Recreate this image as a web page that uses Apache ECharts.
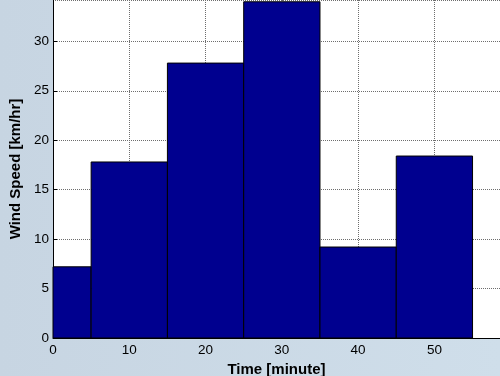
<!DOCTYPE html>
<html>
<head>
<meta charset="utf-8">
<script src="https://cdn.jsdelivr.net/npm/echarts@6/dist/echarts.min.js"></script>
<style>
  html, body { margin: 0; padding: 0; background: #cbd9e6; }
  #chart { width: 500px; height: 376px; }
</style>
</head>
<body>
<div id="chart"></div>
<script>
// Histogram of wind speed per time bin
const binStarts = [0, 5, 15, 25, 35, 45];
const binEnds   = [5, 15, 25, 35, 45, 55];
const windSpeed = [7.2, 17.8, 27.8, 34.0, 9.2, 18.4];
const xTicks = [0, 10, 20, 30, 40, 50];
const yTicks = [0, 5, 10, 15, 20, 25, 30];

const bars = binStarts.map((s, i) => [s, binEnds[i], windSpeed[i]]);
const font = 'Liberation Sans, Arial, Helvetica, sans-serif';

const chart = echarts.init(document.getElementById('chart'), null, { renderer: 'canvas' });

chart.setOption({
  backgroundColor: {
    type: 'linear', x: 0, y: 0, x2: 1, y2: 0,
    colorStops: [
      { offset: 0, color: '#c7d5e2' },
      { offset: 1, color: '#cfdeea' }
    ]
  },
  animation: false,
  grid: {
    left: 53, right: 0, top: 0, bottom: 38,
    outerBoundsMode: 'none',
    containLabel: false,
    show: true, backgroundColor: '#ffffff', borderWidth: 0
  },
  xAxis: {
    type: 'value',
    min: 0,
    max: 58.6,
    interval: 10,
    name: 'Time [minute]',
    nameLocation: 'middle',
    nameGap: 22,
    nameTextStyle: { fontFamily: font, fontSize: 15, fontWeight: 'bold', color: '#000' },
    axisLine: { show: true, lineStyle: { color: '#000', width: 1 } },
    axisTick: { show: true, inside: true, length: 4, lineStyle: { color: '#000' } },
    axisLabel: {
      fontFamily: font, fontSize: 13.5, color: '#000', margin: 5,
      showMaxLabel: false,
      formatter: v => (xTicks.includes(v) ? String(v) : '')
    },
    splitLine: { show: true, lineStyle: { color: '#6e6e6e', type: [1, 1], width: 1 } }
  },
  yAxis: {
    type: 'value',
    min: 0,
    max: 34.18,
    interval: 5,
    name: 'Wind Speed [km/hr]',
    nameLocation: 'middle',
    nameGap: 28,
    nameTextStyle: { fontFamily: font, fontSize: 15, fontWeight: 'bold', color: '#000' },
    axisLine: { show: true, lineStyle: { color: '#000', width: 1 } },
    axisTick: { show: true, inside: true, length: 4, lineStyle: { color: '#000' } },
    axisLabel: {
      fontFamily: font, fontSize: 13.5, color: '#000', margin: 4,
      padding: [4, 0, 0, 0],
      showMaxLabel: false,
      formatter: v => (yTicks.includes(v) ? String(v) : '')
    },
    splitLine: { show: true, lineStyle: { color: '#6e6e6e', type: [1, 1], width: 1 } }
  },
  series: [{
    type: 'custom',
    data: bars,
    encode: { x: [0, 1], y: 2 },
    renderItem: function (params, api) {
      const p0 = api.coord([api.value(0), 0]);
      const p1 = api.coord([api.value(1), api.value(2)]);
      return {
        type: 'rect',
        shape: { x: p0[0], y: p1[1], width: p1[0] - p0[0], height: p0[1] - p1[1] },
        style: { fill: '#00008f', stroke: '#000000', lineWidth: 1 }
      };
    }
  }]
});
</script>
</body>
</html>
